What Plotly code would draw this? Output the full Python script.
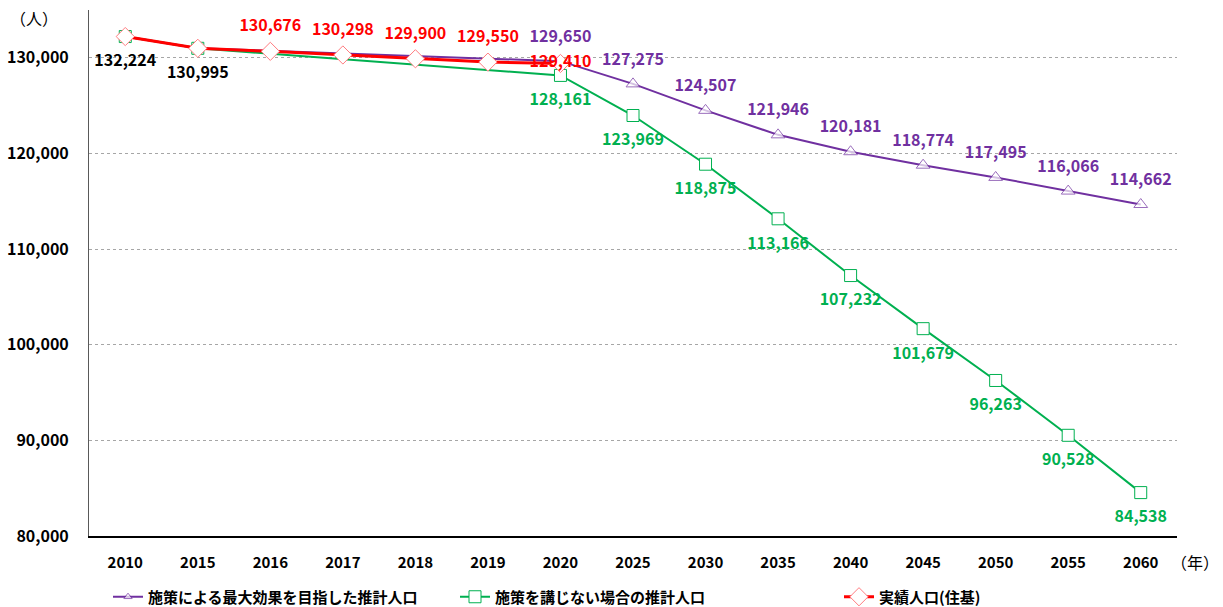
import plotly.graph_objects as go

years = ["2010", "2015", "2016", "2017", "2018", "2019", "2020",
         "2025", "2030", "2035", "2040", "2045", "2050", "2055", "2060"]

policy = [132224, 130995, None, None, None, None, 129650,
          127275, 124507, 121946, 120181, 118774, 117495, 116066, 114662]
no_policy = [132224, 130995, None, None, None, None, 128161,
             123969, 118875, 113166, 107232, 101679, 96263, 90528, 84538]
actual = [132224, 130995, 130676, 130298, 129900, 129550, 129410,
          None, None, None, None, None, None, None, None]

names = ["施策による最大効果を目指した推計人口", "施策を講じない場合の推計人口", "実績人口(住基)"]
y_ticks = [80000, 90000, 100000, 110000, 120000, 130000]

PURPLE = "#7030A0"
GREEN = "#00B050"
RED = "#FF0000"
FONT = "Noto Sans CJK JP"
CLEAR = "rgba(0,0,0,0)"


def fmt(v):
    return "" if v is None else f"{v:,}"


fig = go.Figure()

# ---- lines + markers ----
fig.add_trace(go.Scatter(
    x=years, y=policy, name=names[0], mode="lines+markers",
    connectgaps=True, line=dict(color=PURPLE, width=2),
    marker=dict(symbol="triangle-up", size=[0 if i < 6 else 12 for i in range(len(years))],
                color="white", line=dict(color=PURPLE, width=1)),
    legend="legend",
))
fig.add_trace(go.Scatter(
    x=years, y=no_policy, name=names[1], mode="lines+markers",
    connectgaps=True, line=dict(color=GREEN, width=2),
    marker=dict(symbol="square", size=12, color="white", line=dict(color=GREEN, width=1)),
    legend="legend2",
))
fig.add_trace(go.Scatter(
    x=years, y=actual, name=names[2], mode="lines+markers",
    line=dict(color=RED, width=3),
    marker=dict(symbol="diamond", size=14, color="white", line=dict(color="#FF7C80", width=1)),
    legend="legend3",
))

# ---- data labels (invisible spacer markers push the text away from the points) ----
p_text = [fmt(v) if i >= 6 else "" for i, v in enumerate(policy)]
fig.add_trace(go.Scatter(
    x=years, y=policy, mode="markers+text", showlegend=False, hoverinfo="skip",
    marker=dict(size=23, color=CLEAR, line=dict(width=0)),
    text=p_text, textposition="top center",
    textfont=dict(color=PURPLE, size=16, family=FONT, weight="bold"),
    cliponaxis=False,
))

g_text = [fmt(v) for v in no_policy]
g_col = ["black", "black"] + [GREEN] * (len(years) - 2)
fig.add_trace(go.Scatter(
    x=years, y=no_policy, mode="markers+text", showlegend=False, hoverinfo="skip",
    marker=dict(size=27, color=CLEAR, line=dict(width=0)),
    text=g_text, textposition="bottom center",
    textfont=dict(color=g_col, size=16, family=FONT, weight="bold"),
    cliponaxis=False,
))

r_text = ["", ""] + [fmt(v) for v in actual[2:]]
r_pos = ["top center"] * 6 + ["middle center"] + ["top center"] * 8
fig.add_trace(go.Scatter(
    x=years, y=actual, mode="markers+text", showlegend=False, hoverinfo="skip",
    marker=dict(size=24, color=CLEAR, line=dict(width=0)),
    text=r_text, textposition=r_pos,
    textfont=dict(color=RED, size=16, family=FONT, weight="bold"),
    cliponaxis=False,
))

legend_common = dict(orientation="h", xref="container", yref="container",
                     xanchor="left", y=1 - 597 / 607, yanchor="middle",
                     font=dict(size=15, family=FONT, weight="bold", color="black"),
                     bgcolor="rgba(0,0,0,0)")

fig.update_layout(
    width=1223, height=607,
    margin=dict(l=89, r=46, t=10, b=71),
    plot_bgcolor="white", paper_bgcolor="white",
    font=dict(family=FONT, size=15, color="black"),
    showlegend=True,
    legend=dict(x=108 / 1223, **legend_common),
    legend2=dict(x=455 / 1223, **legend_common),
    legend3=dict(x=839 / 1223, **legend_common),
    xaxis=dict(type="category", range=[-0.5, len(years) - 0.5],
               showgrid=False, showline=True, linecolor="black",
               linewidth=1.5, ticks="", tickfont=dict(size=15, weight="bold"),
               ticklabelstandoff=12, automargin=False, fixedrange=True),
    yaxis=dict(range=[80000, 135000], tickvals=y_ticks, tickformat=",d",
               showgrid=True, gridcolor="#A6A6A6", griddash="dot", gridwidth=1,
               showline=True, linecolor="#595959", linewidth=1, ticks="",
               tickfont=dict(size=16, weight="bold"), zeroline=False,
               ticklabelstandoff=16, automargin=False, fixedrange=True),
    annotations=[
        dict(text="（人）", xref="paper", yref="paper", x=-0.051, y=0.985, xanchor="center",
             yanchor="middle", showarrow=False, font=dict(size=16)),
        dict(text="（年）", xref="paper", yref="paper", x=(1195 - 89) / 1088, y=-0.049,
             xanchor="center", yanchor="middle", showarrow=False, font=dict(size=16)),
    ],
)

fig.write_html("out.html", config={"displayModeBar": False},
               post_script="document.body.style.margin='0';")
